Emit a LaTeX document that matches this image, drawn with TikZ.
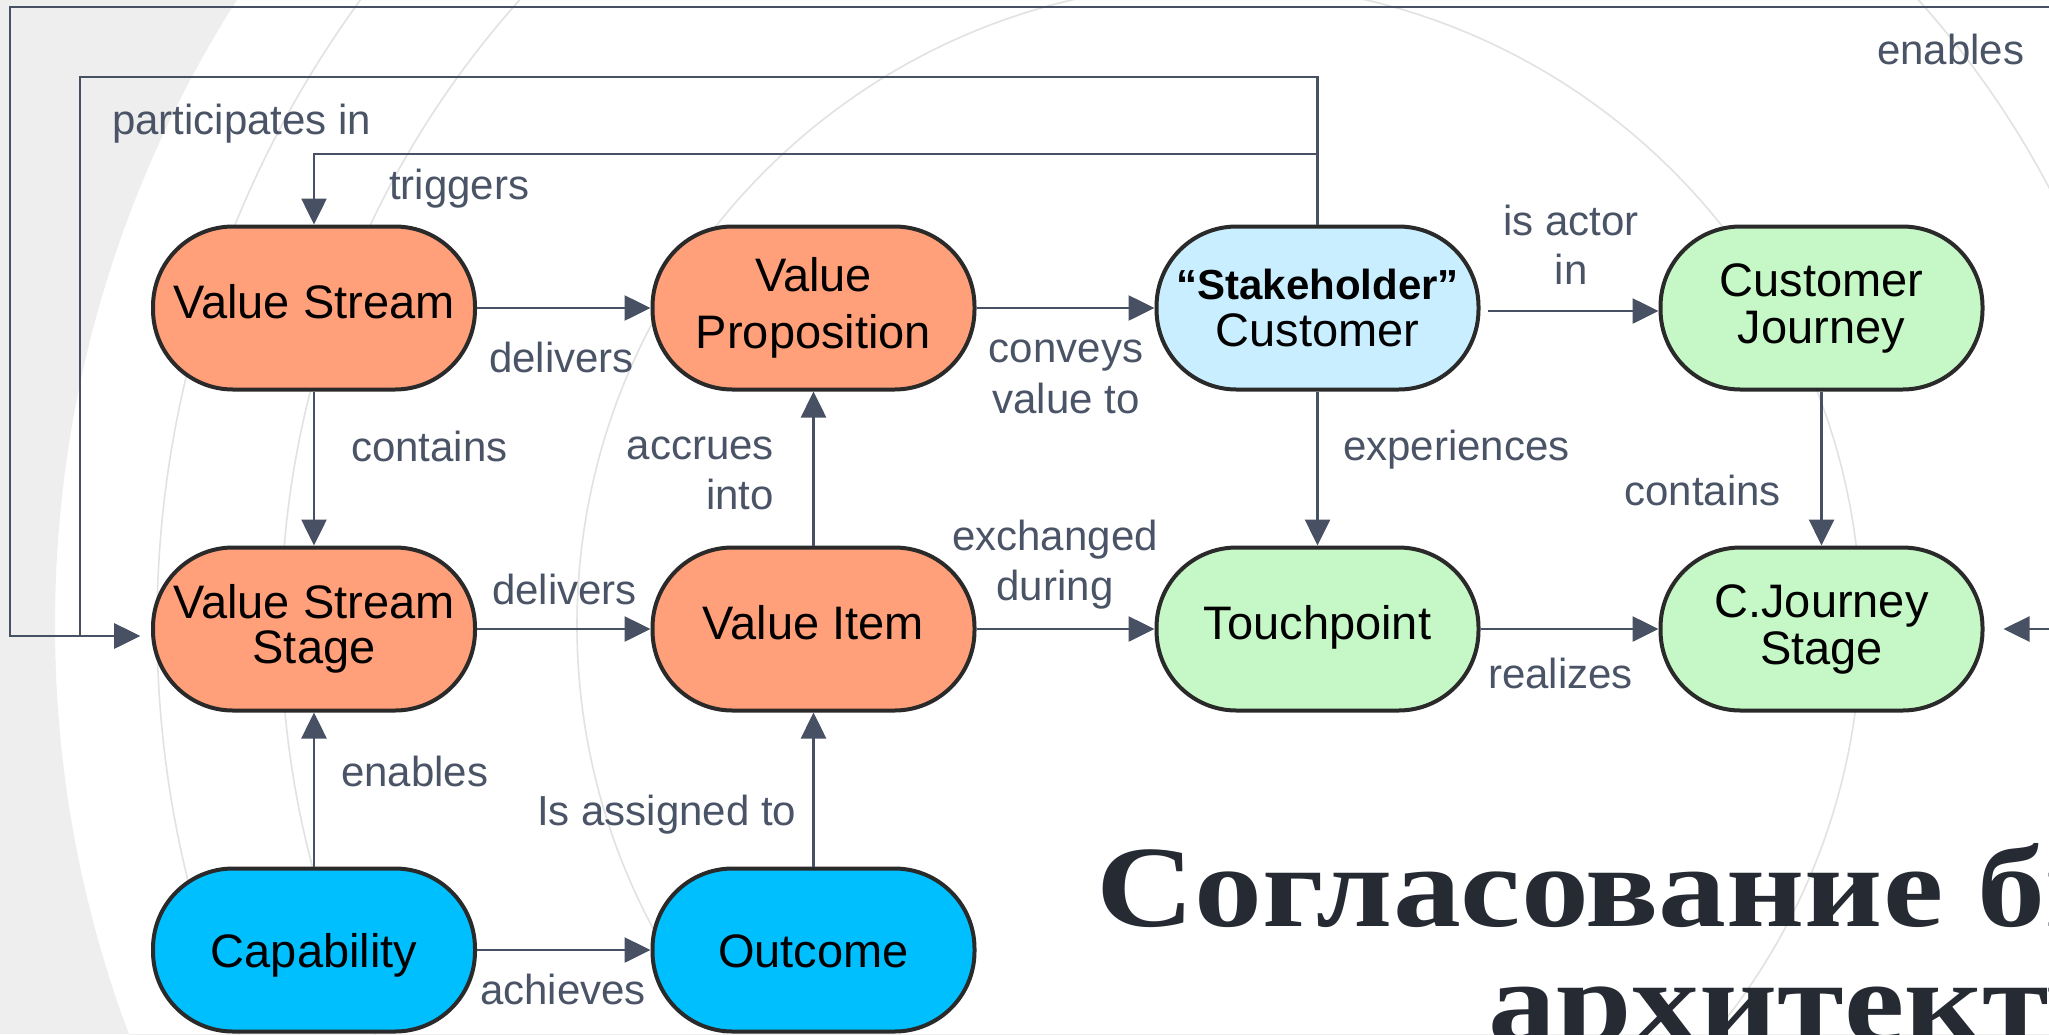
\documentclass[tikz,border=0pt]{standalone}
\usepackage{fontspec}
\setmainfont{Liberation Sans}
\newfontfamily\titlefont[FakeStretch=1.17]{Liberation Serif}
\usetikzlibrary{arrows.meta}
\definecolor{bggray}{HTML}{EEEEEE}
\definecolor{arcgray}{HTML}{E2E2E2}
\definecolor{linec}{HTML}{475163}
\definecolor{labc}{HTML}{4A5466}
\definecolor{bordc}{HTML}{2A2A2A}
\definecolor{salmon}{HTML}{FFA07A}
\definecolor{skyl}{HTML}{C8EEFF}
\definecolor{mint}{HTML}{C6F7C6}
\definecolor{deepsky}{HTML}{00BFFF}
\definecolor{titlec}{HTML}{262A33}
\tikzset{
  ent/.style={rectangle, rounded corners=80pt, minimum width=322pt, minimum height=163pt,
    draw=bordc, line width=4pt, inner sep=2pt, font=\fontsize{47}{47}\selectfont, text=black},
  one/.style={text height=34pt, text depth=14pt},
  low/.style={text height=34pt, text depth=0pt},
  two/.style={align=center},
  conn/.style={draw=linec, line width=2.6pt},
  arr/.style={conn, -{Triangle[length=26pt,width=25pt]}},
  lab/.style={text=labc, font=\fontsize{42}{50}\selectfont, inner sep=0pt},
  ttl/.style={inner sep=0pt, anchor=base west, text=titlec, font=\titlefont\bfseries\fontsize{116}{116}\selectfont},
}
\begin{document}
\begin{tikzpicture}[x=1pt, y=-1pt]
\useasboundingbox (0,0) rectangle (2049,1034);
\clip (0,0) rectangle (2049,1034);
% background
\fill[white] (0,0) rectangle (2049,1034);
\fill[bggray, even odd rule] (0,0) rectangle (2049,1034) (1219,625) circle[radius=1164pt];
\foreach \r in {642,938,1062} \draw[arcgray, line width=1.6pt] (1219,625) circle[radius=\r pt];

% nodes
\node[ent, one, fill=salmon] (VS) at (314,308) {Value Stream};
\node[ent, two, fill=salmon] (VP) at (813.5,308) {Value\\[10pt]Proposition};
\node[ent, two, fill=skyl] (Cust) at (1317.5,308) {{\bfseries\fontsize{42}{47}\selectfont “Stakeholder”}\\Customer};
\node[ent, two, fill=mint] (CJ) at (1821.5,308) {Customer\\Journey};
\node[ent, two, fill=salmon] (VSS) at (314,629) {Value Stream\\[-2pt]Stage};
\node[ent, one, fill=salmon] (VI) at (813.5,629) {Value Item};
\node[ent, one, fill=mint] (TP) at (1317.5,629) {Touchpoint};
\node[ent, two, fill=mint] (CJS) at (1821.5,629) {C.Journey\\Stage};
\node[ent, low, fill=deepsky] (Cap) at (314,950) {Capability};
\node[ent, low, fill=deepsky] (Out) at (813.5,950) {Outcome};

% free ends and bends
\coordinate (enS) at (2060,7);
\coordinate (o1) at (10,636);
\coordinate (i1) at (80,77);
\coordinate (t1) at (314,154);
\coordinate (enR) at (2060,629);

% connectors
\draw[arr, shorten >=11pt] (enS) -| (o1) -- ([yshift=-7pt]VSS.west);
\draw[arr, shorten >=11pt] (Cust.north) |- (i1) |- ([yshift=-7pt]VSS.west);
\draw[arr] (Cust.north) |- (t1) -- (VS.north);
\draw[arr] (VS.east) -- (VP.west);
\draw[arr] (VP.east) -- (Cust.west);
\draw[arr, shorten <=7pt] ([yshift=-3pt]Cust.east) -- ([yshift=-3pt]CJ.west);
\draw[arr] (VS.south) -- (VSS.north);
\draw[arr] (VI.north) -- (VP.south);
\draw[arr] (Cust.south) -- (TP.north);
\draw[arr] (CJ.south) -- (CJS.north);
\draw[arr] (VSS.east) -- (VI.west);
\draw[arr] (VI.east) -- (TP.west);
\draw[arr] (TP.east) -- (CJS.west);
\draw[arr, shorten >=19pt] (enR) -- (CJS.east);
\draw[arr] (Cap.north) -- (VSS.south);
\draw[arr] (Out.north) -- (VI.south);
\draw[arr] (Cap.east) -- (Out.west);

% labels
\node[lab, anchor=base west] (lPart) at (112,134) {participates in};
\node[lab, anchor=base west] (lTrig) at (389,199) {triggers};
\node[lab, anchor=base west] (lDel1) at (489,372) {delivers};
\node[lab, anchor=base west] (lCont1) at (351,461) {contains};
\node[lab, anchor=base east] (lAcc1) at (774,459) {accrues};
\node[lab, anchor=base east] (lAcc2) at (774,509) {into};
\node[lab, anchor=base] (lConv1) at (1066,362) {conveys};
\node[lab, anchor=base] (lConv2) at (1066,413) {value to};
\node[lab, anchor=base] (lAct1) at (1571,235) {is actor};
\node[lab, anchor=base] (lAct2) at (1571,284) {in};
\node[lab, anchor=base west] (lExp) at (1343,460) {experiences};
\node[lab, anchor=base east] (lCont2) at (1781,505) {contains};
\node[lab, anchor=base] (lEx1) at (1055,550) {exchanged};
\node[lab, anchor=base] (lEx2) at (1055,600) {during};
\node[lab, anchor=base west] (lDel2) at (492,604) {delivers};
\node[lab, anchor=base west] (lReal) at (1488,688) {realizes};
\node[lab, anchor=base west] (lEn1) at (341,786) {enables};
\node[lab, anchor=base west] (lAss) at (537,825) {Is assigned to};
\node[lab, anchor=base west] (lAch) at (480,1004) {achieves};
\node[lab, anchor=base west] (lEn2) at (1877,64) {enables};

% title
\node[ttl] (title1) at (1096,926) {Согласование би};
\node[ttl] (title2) at (1488,1041) {архитекту};
\end{tikzpicture}
\end{document}
